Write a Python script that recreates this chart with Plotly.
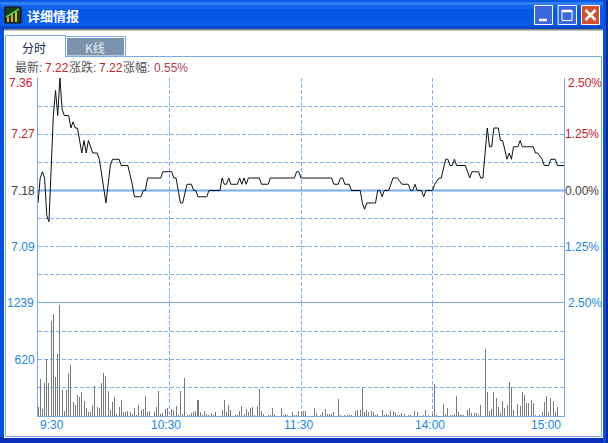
import plotly.graph_objects as go

W, H = 608, 443
PLOT_L, PLOT_R, PLOT_T, PLOT_M, PLOT_B = 38, 564, 78, 303, 416

# --- data ---
PRICE_MINUTES = [
 0,1,2,3,4,5,7,8,9,10,
 11,12,14,15,16,17,18,19,20,21,
 22,23,25,27,28,31,33,34,37,38,
 41,43,44,47,48,49,50,56,57,61,
 62,63,64,65,66,68,70,71,72,73,
 77,78,83,84,85,86,87,88,91,92,
 93,94,95,96,101,102,105,106,117,118,
 119,120,134,135,137,138,139,140,142,143,
 147,148,149,150,154,155,156,157,158,160,
 162,164,166,169,170,171,172,173,175,176,
 177,180,181,183,184,186,187,188,189,190,
 191,195,197,198,201,202,203,205,206,207,
 208,210,211,212,214,215,216,217,219,220,
 221,226,227,228,230,231,233,234,236,237,
 240]
PRICES = [
 7.16,7.20,7.21,7.20,7.14,7.13,7.30,7.34,7.30,7.36,
 7.31,7.30,7.30,7.28,7.29,7.28,7.28,7.26,7.24,7.26,
 7.24,7.26,7.24,7.24,7.23,7.16,7.22,7.23,7.23,7.22,
 7.22,7.19,7.17,7.17,7.18,7.18,7.20,7.20,7.21,7.21,
 7.20,7.20,7.18,7.16,7.16,7.19,7.19,7.18,7.18,7.17,
 7.17,7.18,7.18,7.20,7.19,7.19,7.20,7.19,7.19,7.20,
 7.19,7.20,7.19,7.20,7.20,7.19,7.19,7.20,7.20,7.21,
 7.21,7.20,7.20,7.19,7.19,7.20,7.20,7.19,7.19,7.18,
 7.18,7.16,7.15,7.16,7.16,7.18,7.18,7.17,7.18,7.18,
 7.20,7.20,7.19,7.19,7.18,7.18,7.19,7.18,7.18,7.17,
 7.18,7.18,7.19,7.20,7.20,7.23,7.23,7.22,7.22,7.23,
 7.22,7.22,7.20,7.21,7.21,7.20,7.20,7.28,7.25,7.25,
 7.28,7.28,7.26,7.26,7.23,7.24,7.23,7.25,7.25,7.26,
 7.25,7.25,7.24,7.24,7.23,7.22,7.22,7.23,7.23,7.22,
 7.22]

VOLUME = [
 102,406,77,362,625,362,1045,1118,428,680,1221,289,58,289,471,559,157,124,230,205,
 260,164,91,40,40,124,325,95,84,362,471,442,270,62,150,205,22,102,175,40,
 48,58,48,22,88,11,121,69,77,223,48,51,4,48,95,270,18,33,77,84,
 4,77,69,113,11,278,22,420,7,11,33,40,58,175,48,11,58,26,11,33,
 11,44,0,0,69,179,40,124,69,0,11,11,58,113,22,80,40,84,95,11,
 110,296,51,22,0,7,11,88,22,0,0,88,15,22,7,0,44,11,11,51,
 58,58,58,0,0,0,88,33,4,15,40,77,22,22,22,48,0,186,11,4,
 15,15,8,8,4,58,62,62,307,48,62,40,55,40,11,22,4,66,11,22,
 15,55,55,33,11,7,33,22,4,11,15,0,55,44,0,0,11,66,11,4,
 22,355,8,0,0,132,22,84,11,15,18,223,44,11,11,0,69,88,29,33,
 29,11,124,4,735,267,58,80,267,197,102,29,161,91,124,376,318,66,4,128,
 106,267,234,139,139,175,139,8,4,8,40,157,216,48,197,164,44,102,0,0,318]
MINUTES = list(range(len(VOLUME)))

PRICE_GRID = [7.045, 7.09, 7.135, 7.18, 7.225, 7.27, 7.315]
PRICE_LABELS = {7.09: ("7.09", "#1e88e0"), 7.18: ("7.18", "#3a3a3a"), 7.27: ("7.27", "#c8202c")}
PCT_TICKS = [-1.25, 0.0, 1.25]
PCT_LABELS = [("1.25%", "#1e88e0"), ("0.00%", "#4a4030"), ("1.25%", "#c8202c")]
VOL_GRID = [310, 620, 929]
VOL_LABELS = {620: "620"}
TIME_LABELS = [("9:30", 52), ("10:30", 166), ("11:30", 298), ("14:00", 430), ("15:00", 546)]
TIME_GRID = [60, 120, 180]
HEADER_TEXTS = [("最新:", 14, "#555555"), ("7.22", 44, "#c8202c"), ("涨跌:", 68, "#555555"),
                ("7.22", 98, "#c8202c"), ("涨幅:", 122, "#555555"), ("0.55%", 153, "#b04060")]

FONT = "Liberation Sans, Arial, Noto Sans CJK SC, sans-serif"
GRID = "#7fb0f0"
FRAME = "#7ba8ea"
RULE = "#78a8ee"
DASH = "4px,2px"


def span(text, color):
    return f'<span style="color:{color}">{text}</span>'


def px(x):
    return x / W


def py(y):
    return 1 - y / H


def rect(x0, y0, x1, y1, fill, line=None, lw=1):
    return dict(type="rect", xref="paper", yref="paper", x0=px(x0), x1=px(x1), y0=py(y0), y1=py(y1),
                fillcolor=fill, line=dict(color=line or fill, width=lw if line else 0), layer="below")


def seg(x0, y0, x1, y1, color, lw=2):
    return dict(type="line", xref="paper", yref="paper", x0=px(x0), x1=px(x1), y0=py(y0), y1=py(y1),
                line=dict(color=color, width=lw), layer="above")


def label(text, x, y, color, anchor="left", size=12, family=FONT, **kw):
    return dict(text=text, xref="paper", yref="paper", x=px(x), y=py(y), xanchor=anchor, yanchor="middle",
                showarrow=False, font=dict(family=family, size=size, color=color, **kw))


fig = go.Figure()
fig.add_trace(go.Scatter(x=PRICE_MINUTES, y=PRICES, mode="lines",
                         line=dict(color="#101010", width=1), xaxis="x", yaxis="y", hoverinfo="skip"))
fig.add_trace(go.Bar(x=MINUTES, y=VOLUME, width=0.46,
                     marker=dict(color="rgba(120,120,120,0.99)", line=dict(width=0)),
                     xaxis="x", yaxis="y2", hoverinfo="skip"))
# invisible trace that carries the percentage axis
fig.add_trace(go.Scatter(x=[0, 240], y=[-2.5, 2.5], mode="none", xaxis="x", yaxis="y3", hoverinfo="skip"))

shapes = []
# window frame
shapes.append(rect(0, 0, W, H, "#0a4fd8"))
title_strips = [(0, 2, "#0a58e6"), (2, 5, "#2f7ff2"), (5, 9, "#1165ea"), (9, 20, "#0558e4"), (20, 26, "#0a5cec"), (26, 29, "#0848c8")]
for t0, t1, c in title_strips:
    shapes.append(rect(0, t0, W, t1, c))
shapes.append(rect(0, 437, W, H, "#0a2fb8"))
shapes.append(rect(603, 0, 606, H, "#0a50e0"))
shapes.append(rect(606, 0, W, H, "#0b2c90"))
shapes.append(rect(4, 29, 603, 438, "#ffffff"))
shapes.append(rect(4, 29, 603, 30.5, "#8a8a84"))
# panel and tabs
shapes.append(rect(5.5, 56.5, 601.5, 436.5, "#ffffff", "#7ba8ea", 1))
shapes.append(rect(5.5, 35.5, 65.5, 57, "#ffffff", "#7ba8ea", 1))
shapes.append(rect(6, 55, 65, 58, "#ffffff"))
shapes.append(rect(66.5, 37.5, 124.5, 56, "#7b93ad", "#ffffff", 1))
shapes.append(rect(65.5, 36.5, 125.5, 56.5, "rgba(0,0,0,0)", "#7ba8ea", 1))
# icon
shapes.append(rect(5, 7, 21, 23, "#1f3a18", "#101010", 1))
shapes.append(rect(7, 17, 9, 22, "#e8a020"))
shapes.append(rect(11, 14, 13, 22, "#e8a020"))
shapes.append(rect(15, 12, 17, 22, "#d8c030"))
shapes.append(seg(6, 17, 19, 9, "#50d040", 1.5))
# window buttons
for x0, x1, c in [(534, 553, "#3c66e0"), (557.5, 577, "#3c66e0"), (581, 600, "#d4512e")]:
    shapes.append(rect(x0 + .5, 5.5, x1 - .5, 24.5, c, "#ffffff", 1))
shapes.append(seg(539, 20, 547, 20, "#ffffff", 2.5))
shapes.append(dict(type="rect", xref="paper", yref="paper", x0=px(562), x1=px(572), y0=py(10.5), y1=py(20.5),
                   line=dict(color="#ffffff", width=1), fillcolor="rgba(0,0,0,0)", layer="above"))
shapes.append(seg(562, 11, 572, 11, "#ffffff", 2.5))
shapes.append(seg(585.5, 10, 595.5, 20, "#ffffff", 2.5))
shapes.append(seg(595.5, 10, 585.5, 20, "#ffffff", 2.5))
# solid rules at the zero line and between the two panes, drawn from the axes
shapes.append(dict(type="line", xref="paper", yref="y", x0=px(PLOT_L), x1=px(PLOT_R), y0=7.18, y1=7.18,
                   line=dict(color=RULE, width=2), layer="below"))
shapes.append(dict(type="line", xref="paper", yref="y", x0=px(PLOT_L), x1=px(PLOT_R), y0=7.0, y1=7.0,
                   line=dict(color=RULE, width=2), layer="below"))

ann = [label("详细情报", 25, 15, "#ffffff", size=13, family="Noto Sans CJK SC", weight="bold"),
       label("分时", 34, 47.5, "#1a2a50", anchor="center", family="Noto Sans CJK SC"),
       label("K线", 95, 47.5, "#e8eef5", anchor="center", family="Noto Sans CJK SC")]
for text, x, color in HEADER_TEXTS:
    ann.append(label(text, x - 1, 67.5, color))
for text, x in TIME_LABELS:
    ann.append(label(text, x, 425, "#1e88e0", anchor="center"))
# end labels kept inside the plot's height, and the right-hand label of the pane rule
ann.append(label("7.36", 35, 83, "#c8202c", anchor="right"))
ann.append(label("2.50%", 566, 83, "#c8202c"))
ann.append(label("1239", 36, 303, "#1e88e0", anchor="right"))
ann.append(label("2.50%", 566, 303, "#1e88e0"))

fig.update_layout(
    width=W, height=H, margin=dict(l=0, r=0, t=0, b=0), showlegend=False, autosize=False,
    paper_bgcolor="#ffffff", plot_bgcolor="rgba(0,0,0,0)", bargap=0,
    shapes=shapes, annotations=ann, font=dict(family=FONT, size=12),
    xaxis=dict(domain=[px(PLOT_L), px(PLOT_R)], range=[0, 240], anchor="y2", tickvals=TIME_GRID, ticktext=["", "", ""],
               showgrid=True, gridcolor=GRID, griddash=DASH, gridwidth=1, ticks="", zeroline=False, automargin=False,
               showline=True, linecolor=FRAME, linewidth=1, mirror=True),
    yaxis=dict(domain=[py(PLOT_M), py(PLOT_T)], range=[7.0, 7.36], anchor="x", tickvals=PRICE_GRID,
               ticktext=[span(*PRICE_LABELS[v]) if v in PRICE_LABELS else "" for v in PRICE_GRID],
               showgrid=True, gridcolor=GRID, griddash=DASH, gridwidth=1, ticks="", ticklen=0, zeroline=False, automargin=False,
               showline=True, linecolor=FRAME, linewidth=1, mirror=True, tickfont=dict(size=12, family=FONT)),
    yaxis2=dict(domain=[py(PLOT_B), py(PLOT_M)], range=[0, 1239], anchor="x", tickvals=VOL_GRID,
                ticktext=[span(VOL_LABELS[v], "#1e88e0") if v in VOL_LABELS else "" for v in VOL_GRID],
                showgrid=True, gridcolor=GRID, griddash=DASH, gridwidth=1, ticks="", zeroline=False, automargin=False,
                showline=True, linecolor=FRAME, linewidth=1, mirror=True, tickfont=dict(size=12, family=FONT)),
    yaxis3=dict(domain=[py(PLOT_M), py(PLOT_T)], range=[-2.5, 2.5], anchor="x", overlaying="y", side="right",
                tickvals=PCT_TICKS, ticktext=[span(t, c) for t, c in PCT_LABELS], showgrid=False, zeroline=False, automargin=False,
                ticks="", tickfont=dict(size=12, family=FONT)),
)
fig.write_html("out.html", config={"displayModeBar": False},
               post_script="document.body.style.margin='0';document.documentElement.style.overflow='hidden';")
